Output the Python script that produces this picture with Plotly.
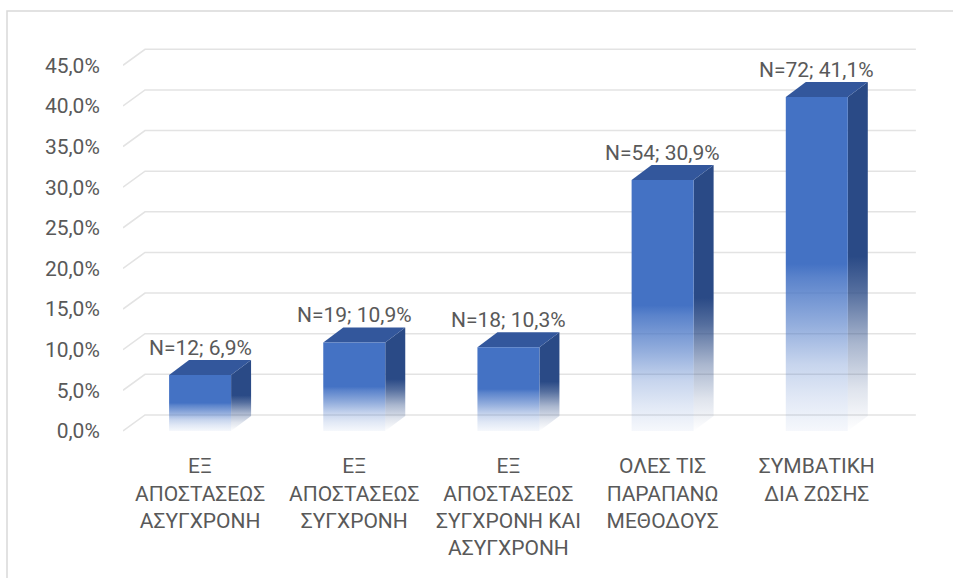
import plotly.graph_objects as go


# -------------------------------------------------
# Data
# -------------------------------------------------

categories = [
    "ΕΞ<br>ΑΠΟΣΤΑΣΕΩΣ<br>ΑΣΥΓΧΡΟΝΗ",
    "ΕΞ<br>ΑΠΟΣΤΑΣΕΩΣ<br>ΣΥΓΧΡΟΝΗ",
    "ΕΞ<br>ΑΠΟΣΤΑΣΕΩΣ<br>ΣΥΓΧΡΟΝΗ ΚΑΙ<br>ΑΣΥΓΧΡΟΝΗ",
    "ΟΛΕΣ ΤΙΣ<br>ΠΑΡΑΠΑΝΩ<br>ΜΕΘΟΔΟΥΣ",
    "ΣΥΜΒΑΤΙΚΗ<br>ΔΙΑ ΖΩΣΗΣ",
]
counts = [12, 19, 18, 54, 72]
percents = [6.9, 10.9, 10.3, 30.9, 41.1]
y_ticks = [0, 5, 10, 15, 20, 25, 30, 35, 40, 45]


# -------------------------------------------------
# Layout geometry (pixels)
# -------------------------------------------------

W, H = 953, 578
ML, MR, MT, MB = 123, 36, 45, 143
X_RANGE = [-0.5, 4.65]
Y_RANGE = [-0.5, 47.5]

px_x = (W - ML - MR) / (X_RANGE[1] - X_RANGE[0])
px_y = (H - MT - MB) / (Y_RANGE[1] - Y_RANGE[0])

BAR_W = 62 / px_x
BAR_DX = 20 / px_x
BAR_DY = 15 / px_y
GRID_DX = 22 / px_x
GRID_DY = 16 / px_y

FONT = "Roboto, Open Sans, DejaVu Sans, sans-serif"
TEXT = "#595959"
BLUE = "68,114,196"
TOP = "rgb(51,87,156)"
SIDE = "rgb(42,74,134)"

fade = [
    [0.0, "rgba(%s,0.05)" % BLUE],
    [0.1, "rgba(%s,0.16)" % BLUE],
    [0.2, "rgba(%s,0.30)" % BLUE],
    [0.32, "rgba(%s,0.58)" % BLUE],
    [0.46, "rgba(%s,0.88)" % BLUE],
    [0.5, "rgba(%s,1)" % BLUE],
    [1.0, "rgba(%s,1)" % BLUE],
]

side_fade = [
    [0.0, "rgba(42,74,134,0.0)"],
    [0.12, "rgba(42,74,134,0.15)"],
    [0.25, "rgba(42,74,134,0.4)"],
    [0.4, "rgba(42,74,134,0.8)"],
    [0.5, "rgba(42,74,134,1)"],
    [1.0, "rgba(42,74,134,1)"],
]

fig = go.Figure()


# -------------------------------------------------
# 3D gridlines
# -------------------------------------------------

for t in y_ticks:
    fig.add_trace(go.Scatter(
        x=[-0.5, -0.5 + GRID_DX, 4.5 + GRID_DX],
        y=[t, t + GRID_DY, t + GRID_DY],
        mode="lines",
        line=dict(color="#e3e3e3", width=1.6),
        hoverinfo="skip",
        showlegend=False
    ))


# -------------------------------------------------
# 3D bars
# -------------------------------------------------

for i, v in enumerate(percents):

    x0 = i - BAR_W / 2
    x1 = i + BAR_W / 2

    # side face
    fig.add_trace(go.Scatter(
        x=[x1, x1, x1 + BAR_DX, x1 + BAR_DX, x1],
        y=[0, v, v + BAR_DY, BAR_DY, 0],
        fill="toself",
        fillgradient=dict(type="vertical", colorscale=side_fade,
                          start=0, stop=v + BAR_DY),
        mode="lines",
        line=dict(width=0, color=SIDE),
        hoverinfo="skip",
        showlegend=False
    ))

    # top face
    fig.add_trace(go.Scatter(
        x=[x0, x1, x1 + BAR_DX, x0 + BAR_DX, x0],
        y=[v, v, v + BAR_DY, v + BAR_DY, v],
        fill="toself",
        fillcolor=TOP,
        mode="lines",
        line=dict(width=0, color=TOP),
        hoverinfo="skip",
        showlegend=False
    ))

    # front face
    fig.add_trace(go.Scatter(
        x=[x0, x0, x1, x1, x0],
        y=[0, v, v, 0, 0],
        fill="toself",
        fillgradient=dict(type="vertical", colorscale=fade,
                          start=0, stop=v),
        mode="lines",
        line=dict(width=0, color="rgb(%s)" % BLUE),
        hoverinfo="skip",
        showlegend=False
    ))


# -------------------------------------------------
# Data labels
# -------------------------------------------------

for i, (n, v) in enumerate(zip(counts, percents)):
    fig.add_annotation(
        x=i,
        y=v,
        yshift=27,
        text=("N=%d; %.1f%%" % (n, v)).replace(".", ","),
        showarrow=False,
        font=dict(family=FONT, size=21, color=TEXT)
    )


# -------------------------------------------------
# Chart frame
# -------------------------------------------------

plot_w = W - ML - MR
plot_h = H - MT - MB

fig.add_shape(
    type="rect",
    xref="paper",
    yref="paper",
    x0=(7 - ML) / plot_w,
    x1=(965 - ML) / plot_w,
    y0=(H - MB - 600) / plot_h,
    y1=(H - MB - 11) / plot_h,
    line=dict(color="#d9d9d9", width=1.5),
    layer="below"
)


fig.update_layout(
    width=W,
    height=H,
    margin=dict(l=ML, r=MR, t=MT, b=MB),
    paper_bgcolor="white",
    plot_bgcolor="white",
    font=dict(family=FONT, size=21, color=TEXT),
    xaxis=dict(
        range=X_RANGE,
        tickvals=list(range(len(categories))),
        ticktext=categories,
        showgrid=False,
        zeroline=False,
        showline=False,
        ticks="outside",
        ticklen=12,
        tickcolor="rgba(0,0,0,0)",
        tickfont=dict(family=FONT, size=21, color=TEXT),
        fixedrange=True
    ),
    yaxis=dict(
        range=Y_RANGE,
        tickvals=y_ticks,
        ticktext=[("%.1f%%" % t).replace(".", ",") for t in y_ticks],
        showgrid=False,
        zeroline=False,
        showline=False,
        ticks="outside",
        ticklen=18,
        tickcolor="rgba(0,0,0,0)",
        tickfont=dict(family=FONT, size=21, color=TEXT),
        fixedrange=True
    ),
    showlegend=False
)

fig.write_html(
    "out.html",
    config={"displayModeBar": False},
    post_script="document.body.style.margin='0';"
)
